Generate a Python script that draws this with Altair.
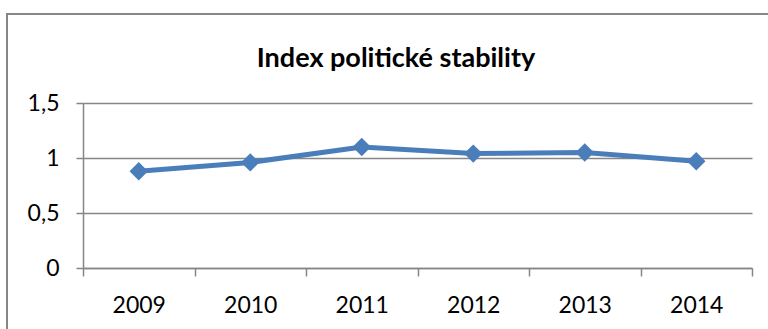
import altair as alt
import pandas as pd

years = ["2009", "2010", "2011", "2012", "2013", "2014"]
values = [0.88, 0.96, 1.10, 1.04, 1.05, 0.97]
y_ticks = [0, 0.5, 1, 1.5]
title_text = "Index politické stability"

df = pd.DataFrame({"year": years, "value": values})

FONT = "Lato"
GRID = "#868686"
BLUE = "#4A7EBB"

x_enc = alt.X(
    "year:N",
    sort=years,
    bandPosition=0.5,
    scale=alt.Scale(type="band", paddingInner=0, paddingOuter=0),
    axis=alt.Axis(
        title=None,
        labelAngle=0,
        tickBand="extent",
        grid=False,
        domainColor=GRID,
        domainWidth=1.5,
        tickColor=GRID,
        tickWidth=1.5,
        tickSize=8,
        labelFont=FONT,
        labelFontSize=23,
        labelColor="#000000",
        labelBaseline="alphabetic",
        labelPadding=36,
    ),
)
y_enc = alt.Y(
    "value:Q",
    scale=alt.Scale(domain=[0, 1.5], nice=False, zero=True),
    axis=alt.Axis(
        title=None,
        values=y_ticks,
        grid=True,
        gridColor=GRID,
        gridWidth=1.5,
        domainColor=GRID,
        domainWidth=1.5,
        tickColor=GRID,
        tickWidth=1.5,
        tickSize=7,
        labelFont=FONT,
        labelFontSize=23,
        labelColor="#000000",
        labelPadding=17,
        labelExpr="replace(format(datum.value, ''), '.', ',')",
    ),
)

line = alt.Chart(df).mark_line(
    color=BLUE, strokeWidth=5, point=alt.OverlayMarkDef(shape="diamond", size=340, filled=True, color=BLUE, opacity=1)
).encode(x=x_enc, y=y_enc)

frame = alt.Chart(df).mark_rect(fill=None, stroke="#878787", strokeWidth=1.5).encode(
    x=alt.value(-76), x2=alt.value(700), y=alt.value(-89), y2=alt.value(260)
)

title = alt.Chart(pd.DataFrame({"t": [title_text]})).mark_text(
    font=FONT, fontSize=27, fontWeight="bold", color="#000000", align="center", baseline="alphabetic"
).encode(text="t:N", x=alt.value(313), y=alt.value(-36))

chart = (
    alt.layer(frame, line, title)
    .properties(
        width=669,
        height=165,
        autosize=alt.AutoSizeParams(type="none"),
        padding={"left": 83, "top": 103, "right": 16, "bottom": 61},
        background="#ffffff",
    )
    .configure_view(stroke=None)
)

chart.save("out.html", embed_options={"renderer": "svg", "actions": False})
